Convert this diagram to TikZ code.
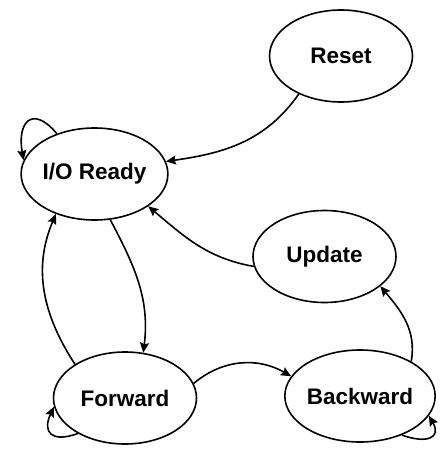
\documentclass[tikz,border=0pt]{standalone}
\usepackage{fontspec}
\setmainfont{Liberation Sans}
\usetikzlibrary{shapes.geometric,arrows.meta}
\begin{document}
\begin{tikzpicture}[x=1pt,y=1pt,
  state/.style={draw,ellipse,line width=1.6pt,minimum width=143pt,minimum height=92pt,inner sep=0pt,
    font=\bfseries\fontsize{22.5}{26}\selectfont},
  edge/.style={line width=1.6pt,-{Stealth[length=10pt,width=9pt,inset=1.5pt]}}]
\useasboundingbox (0,0) rectangle (445,-458);
\node[state] (reset) at (341,-56) {Reset};
\node[state] (io) at (94.5,-174) {I/O Ready};
\node[state] (upd) at (324.5,-256.5) {Update};
\node[state] (fwd) at (125,-398) {Forward};
\node[state] (bwd) at (360,-396) {Backward};
% edges
\draw[edge] (reset.222) to[out=235,in=8] (io.10);
\draw[edge] (upd.188) to[out=170,in=-40] (io.-31);
\draw[edge] (io.-71) to[out=-62,in=83] (fwd.68);
\draw[edge] (fwd.146) to[out=123,in=-113] (io.226);
\draw[edge] (fwd.12) to[out=40,in=150] (bwd.164);
\draw[edge] (bwd.34) to[out=80,in=-50] (upd.-28);
% self loops
\draw[edge] (io.133) to[out=130,in=100,looseness=2.3] (io.169);
\draw[edge] (fwd.217) to[out=200,in=245,looseness=2] (fwd.187);
\draw[edge] (bwd.317) to[out=-20,in=-60,looseness=2] (bwd.344);
\end{tikzpicture}
\end{document}
